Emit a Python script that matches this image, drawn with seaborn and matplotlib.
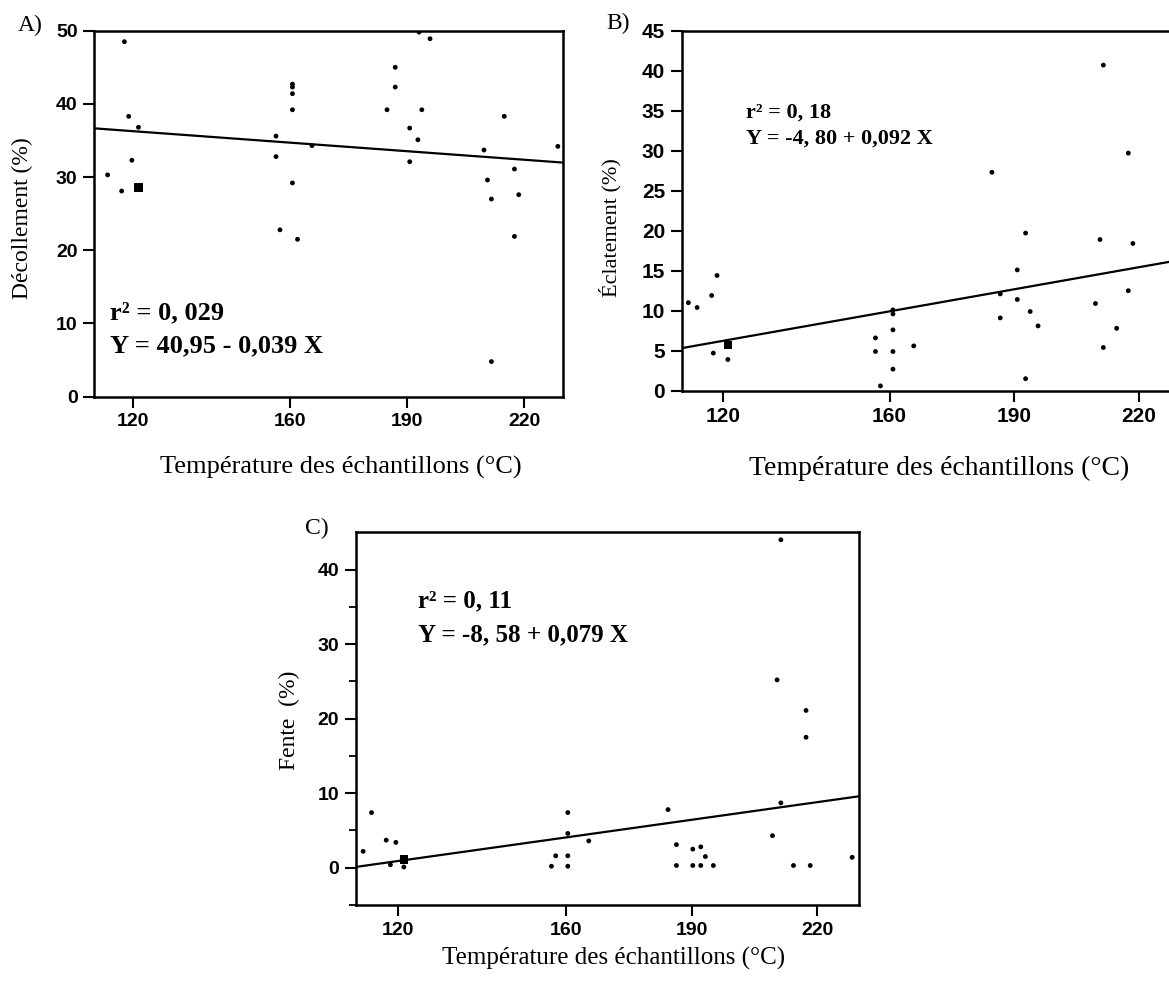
import numpy as np
import pandas as pd
import matplotlib
matplotlib.use("Agg")
import matplotlib.pyplot as plt
import seaborn as sns

# ---- A) Décollement ----
temp_a = [113.4, 117.7, 117.0, 118.8, 119.6, 121.3, 156.5, 156.5, 157.5,
          160.7, 160.7, 160.7, 160.7, 160.7, 162.0, 165.7, 184.9, 187.0,
          187.0, 193.1, 195.9, 190.7, 192.8, 190.7, 193.8, 209.7, 210.6,
          211.6, 211.6, 214.9, 217.5, 218.6, 217.5, 228.6]
decol_a = [30.3, 48.5, 28.1, 38.3, 32.3, 36.8, 35.6, 32.8, 22.8,
           42.7, 42.3, 41.4, 39.2, 29.2, 21.5, 34.3, 39.2, 45.0,
           42.3, 49.8, 48.9, 36.7, 35.1, 32.1, 39.2, 33.7, 29.6,
           27.0, 4.8, 38.3, 31.1, 27.6, 21.9, 34.2]
temp_a_grp = [121.3]
decol_a_grp = [28.6]
fit_a = (40.95, -0.039)

# ---- B) Éclatement ----
temp_b = [111.6, 113.7, 117.2, 118.5, 117.6, 121.1, 156.6, 156.6, 157.8,
          160.8, 160.8, 160.8, 160.8, 160.8, 165.8, 184.6, 186.6, 186.6,
          190.7, 190.7, 192.7, 192.7, 193.8, 195.7, 209.5, 210.6, 211.4,
          211.4, 214.6, 217.4, 217.4, 218.5]
eclat_b = [11.0, 10.4, 11.9, 14.4, 4.7, 3.9, 6.6, 4.9, 0.6,
           10.1, 9.6, 7.6, 4.9, 2.7, 5.6, 27.3, 12.1, 9.1,
           15.1, 11.4, 19.7, 1.5, 9.9, 8.1, 10.9, 18.9, 40.7,
           5.4, 7.8, 29.7, 12.5, 18.4]
temp_b_grp = [121.1]
eclat_b_grp = [5.7]
fit_b = (-4.80, 0.092)

# ---- C) Fente ----
temp_c = [111.7, 113.7, 117.2, 119.5, 118.2, 121.4, 156.6, 157.6, 160.5,
          160.5, 160.5, 160.5, 165.5, 184.4, 186.4, 186.4, 190.3, 190.3,
          192.2, 192.2, 193.3, 195.2, 209.3, 210.4, 211.3, 211.3, 214.3,
          217.3, 217.3, 218.3, 228.3]
fente_c = [2.2, 7.4, 3.7, 3.4, 0.4, 0.1, 0.2, 1.6, 7.4,
           4.6, 1.6, 0.2, 3.6, 7.8, 3.1, 0.3, 2.5, 0.3,
           2.8, 0.3, 1.5, 0.3, 4.3, 25.2, 44.0, 8.7, 0.3,
           21.1, 17.5, 0.3, 1.4]
temp_c_grp = [121.4]
fente_c_grp = [1.1]
fit_c = (-8.58, 0.079)

x_ticks = [120, 160, 190, 220]
x_range = (110, 230)

sns.set_theme(style="ticks")
plt.rcParams["font.family"] = ["Liberation Sans", "DejaVu Sans"]
plt.rcParams["text.color"] = "black"
plt.rcParams["axes.labelcolor"] = "black"
plt.rcParams["xtick.color"] = "black"
plt.rcParams["ytick.color"] = "black"

W, H = 1169, 990
fig = plt.figure(figsize=(W / 100, H / 100), dpi=100)
fig.patch.set_facecolor("white")


def px_axes(left, right, top, bottom):
    return fig.add_axes([left / W, 1 - bottom / H, (right - left) / W, (bottom - top) / H])


def ftext(x, y, s, **kw):
    fig.text(x / W, 1 - y / H, s, color="black", **kw)


def draw_panel(ax, temps, vals, g_t, g_v, fit, ylim, yticks, yminor, tick_fs):
    df = pd.DataFrame({"T": temps, "V": vals})
    sns.scatterplot(data=df, x="T", y="V", ax=ax, color="black", s=12,
                    marker="o", edgecolor="none", legend=False, zorder=3)
    dg = pd.DataFrame({"T": g_t, "V": g_v})
    sns.scatterplot(data=dg, x="T", y="V", ax=ax, color="black", s=38,
                    marker="s", edgecolor="none", legend=False, zorder=3)
    xl = np.array(x_range, dtype=float)
    line = pd.DataFrame({"T": xl, "V": fit[0] + fit[1] * xl})
    sns.lineplot(data=line, x="T", y="V", ax=ax, color="black", lw=1.6, zorder=2)
    ax.set_xlim(*x_range)
    ax.set_ylim(*ylim)
    ax.set_xticks(x_ticks)
    ax.set_yticks(yticks)
    if yminor is not None:
        ax.set_yticks(yminor, minor=True)
    ax.set_xlabel("")
    ax.set_ylabel("")
    for sp in ax.spines.values():
        sp.set_visible(True)
        sp.set_linewidth(1.8)
        sp.set_color("black")
    ax.tick_params(axis="both", which="major", direction="out", length=8,
                   width=1.5, color="black", labelsize=tick_fs, pad=4,
                   labelcolor="black")
    ax.tick_params(axis="y", which="minor", direction="out", length=5,
                   width=1.3, color="black")
    ax.tick_params(top=False, right=False, which="both")
    for lab in ax.get_xticklabels() + ax.get_yticklabels():
        lab.set_fontweight("bold")
    ax.set_facecolor("white")


serif = ["Liberation Serif", "DejaVu Serif"]

# Panel A
ax_a = px_axes(94.3, 563.3, 30.7, 396.7)
draw_panel(ax_a, temp_a, decol_a, temp_a_grp, decol_a_grp, fit_a,
           (0, 50), [0, 10, 20, 30, 40, 50], None, 14)
ftext(18, 25, "A)", family=serif, fontsize=17, va="center", ha="left")
ftext(22.7, 218, "Décollement (%)", family=serif, fontsize=17, rotation=90,
      va="center", ha="center")
ftext(341, 467, "Température des échantillons (°C)", family=serif, fontsize=19,
      va="center", ha="center")
ftext(110, 313, "r² = 0, 029", family=serif, fontsize=19, weight="bold",
      va="center", ha="left")
ftext(110, 346, "Y = 40,95 - 0,039 X", family=serif, fontsize=19, weight="bold",
      va="center", ha="left")

# Panel B
ax_b = px_axes(681.7, 1180.7, 30.7, 390.7)
draw_panel(ax_b, temp_b, eclat_b, temp_b_grp, eclat_b_grp, fit_b,
           (0, 45), list(range(0, 46, 5)), None, 15)
ftext(606.7, 23, "B)", family=serif, fontsize=17, va="center", ha="left")
ftext(610, 228, "Éclatement (%)", family=serif, fontsize=16, rotation=90,
      va="center", ha="center")
ftext(939, 468, "Température des échantillons (°C)", family=serif, fontsize=20,
      va="center", ha="center")
ftext(745.7, 113, "r² = 0, 18", family=serif, fontsize=16, weight="bold",
      va="center", ha="left")
ftext(745.7, 139, "Y = -4, 80 + 0,092 X", family=serif, fontsize=16, weight="bold",
      va="center", ha="left")

# Panel C
ax_c = px_axes(356, 859.3, 532.3, 905)
draw_panel(ax_c, temp_c, fente_c, temp_c_grp, fente_c_grp, fit_c,
           (-5, 45), [0, 10, 20, 30, 40], [-5, 5, 15, 25, 35], 14)
ftext(305, 528, "C)", family=serif, fontsize=17, va="center", ha="left")
ftext(289.3, 720, "Fente  (%)", family=serif, fontsize=17, rotation=90,
      va="center", ha="center")
ftext(613.3, 958, "Température des échantillons (°C)", family=serif, fontsize=18,
      va="center", ha="center")
ftext(418.3, 601, "r² = 0, 11", family=serif, fontsize=18, weight="bold",
      va="center", ha="left")
ftext(418.3, 635, "Y = -8, 58 + 0,079 X", family=serif, fontsize=18, weight="bold",
      va="center", ha="left")

fig.savefig("out.png", dpi=100, facecolor="white")
